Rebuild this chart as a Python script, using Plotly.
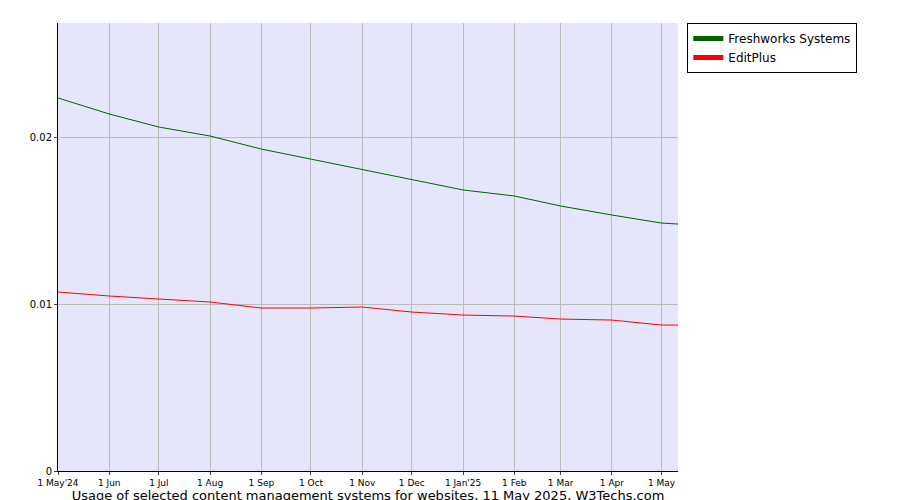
import plotly.graph_objects as go

dates = ["2024-05-01","2024-06-01","2024-07-01","2024-08-01","2024-09-01","2024-10-01","2024-11-01",
         "2024-12-01","2025-01-01","2025-02-01","2025-03-01","2025-04-01","2025-05-01","2025-05-11"]
freshworks = [0.02234,0.02138,0.0206,0.02006,0.01928,0.01868,0.01802,0.01743,0.01683,0.01647,0.01587,0.01533,0.01485,0.01479]
editplus = [0.01072,0.01048,0.0103,0.01012,0.00976,0.00976,0.00982,0.00952,0.00934,0.00928,0.0091,0.00904,0.00874,0.00874]
tick_vals = dates[:13]
tick_text = ["1 May'24","1 Jun","1 Jul","1 Aug","1 Sep","1 Oct","1 Nov","1 Dec","1 Jan'25","1 Feb","1 Mar","1 Apr","1 May"]

fig = go.Figure()
fig.add_trace(go.Scatter(x=dates, y=freshworks, mode="lines", name="Freshworks Systems",
                         line=dict(color="#006400", width=1)))
fig.add_trace(go.Scatter(x=dates, y=editplus, mode="lines", name="EditPlus",
                         line=dict(color="#ff0000", width=1)))
fig.update_layout(
    width=900, height=500, paper_bgcolor="white", plot_bgcolor="#e6e6fa",
    margin=dict(l=50, r=230, t=15, b=37, autoexpand=False),
    font=dict(family="DejaVu Sans", size=10, color="black"),
    showlegend=True,
    legend=dict(x=1.015, y=1.0, xanchor="left", yanchor="top", bordercolor="black", borderwidth=1,
                font=dict(size=12), tracegroupgap=0, itemwidth=30,
                entrywidth=0, itemsizing="constant"),
    xaxis=dict(range=[dates[0], dates[-1]], tickvals=tick_vals, ticktext=tick_text, showgrid=True,
               gridcolor="#bbbbbb", ticks="outside", ticklen=3, linecolor="black", showline=True,
               tickfont=dict(size=9), automargin=False,
               title=dict(text="Usage of selected content management systems for websites, 11 May 2025, W3Techs.com",
                          font=dict(size=13), standoff=2)),
    yaxis=dict(range=[0, 0.02683], tickvals=[0, 0.01, 0.02], ticktext=["0", "0.01", "0.02"],
               showgrid=True, gridcolor="#bbbbbb", ticks="outside", ticklen=3, linecolor="black",
               showline=True, zeroline=False, automargin=False),
)
fig.write_html("out.html")
